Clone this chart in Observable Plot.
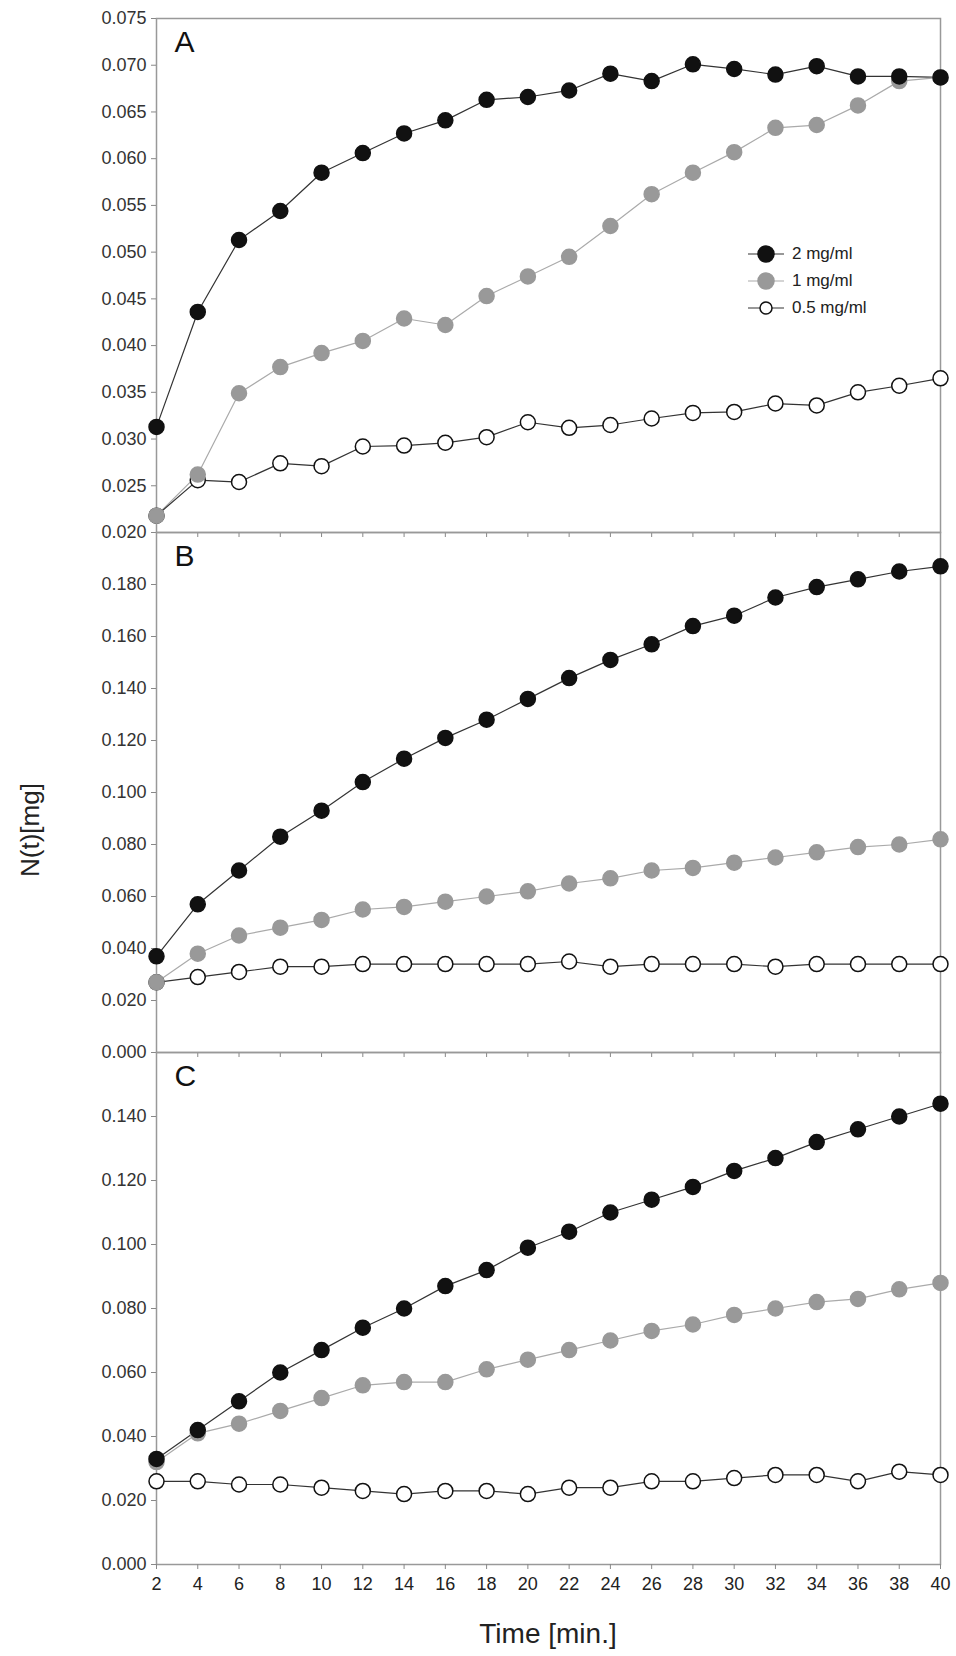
<!DOCTYPE html>
<html>
<head>
<meta charset="utf-8">
<script src="https://cdn.jsdelivr.net/npm/d3@7"></script>
<script src="https://cdn.jsdelivr.net/npm/@observablehq/plot@0.6"></script>
<style>
  body { margin: 0; background: #fff; font-family: "Liberation Sans", Arial, sans-serif; }
  #wrap { position: relative; width: 956px; height: 1656px; }
  #wrap svg { display: block; }
  #ylab { position: absolute; left: 30px; top: 830px; transform: translate(-50%, -50%) rotate(-90deg); font-size: 26px; color: #222; white-space: nowrap; }
  #xlab { position: absolute; left: 548px; top: 1618px; transform: translateX(-50%); font-size: 28px; color: #222; white-space: nowrap; }
  #legend { position: absolute; left: 746px; top: 240px; font-size: 17px; color: #222; }
  #legend div { display: flex; align-items: center; height: 27px; }
  #legend svg { margin-right: 6px; }
</style>
</head>
<body>
<div id="wrap">
  <div id="chart"></div>
  <div id="ylab">N(t)[mg]</div>
  <div id="xlab">Time [min.]</div>
  <div id="legend"></div>
</div>
<script>
const time = [2,4,6,8,10,12,14,16,18,20,22,24,26,28,30,32,34,36,38,40];
const series = ["2 mg/ml", "1 mg/ml", "0.5 mg/ml"];

const a2 = [0.0313,0.0436,0.0513,0.0544,0.0585,0.0606,0.0627,0.0641,0.0663,0.0666,0.0673,0.0691,0.0683,0.0701,0.0696,0.0690,0.0699,0.0688,0.0688,0.0687];
const a1 = [0.0218,0.0262,0.0349,0.0377,0.0392,0.0405,0.0429,0.0422,0.0453,0.0474,0.0495,0.0528,0.0562,0.0585,0.0607,0.0633,0.0636,0.0657,0.0683,0.0687];
const a05 = [0.0218,0.0256,0.0254,0.0274,0.0271,0.0292,0.0293,0.0296,0.0302,0.0318,0.0312,0.0315,0.0322,0.0328,0.0329,0.0338,0.0336,0.0350,0.0357,0.0365];

const b2 = [0.037,0.057,0.070,0.083,0.093,0.104,0.113,0.121,0.128,0.136,0.144,0.151,0.157,0.164,0.168,0.175,0.179,0.182,0.185,0.187];
const b1 = [0.027,0.038,0.045,0.048,0.051,0.055,0.056,0.058,0.060,0.062,0.065,0.067,0.070,0.071,0.073,0.075,0.077,0.079,0.080,0.082];
const b05 = [0.027,0.029,0.031,0.033,0.033,0.034,0.034,0.034,0.034,0.034,0.035,0.033,0.034,0.034,0.034,0.033,0.034,0.034,0.034,0.034];

const c2 = [0.033,0.042,0.051,0.060,0.067,0.074,0.080,0.087,0.092,0.099,0.104,0.110,0.114,0.118,0.123,0.127,0.132,0.136,0.140,0.144];
const c1 = [0.032,0.041,0.044,0.048,0.052,0.056,0.057,0.057,0.061,0.064,0.067,0.070,0.073,0.075,0.078,0.080,0.082,0.083,0.086,0.088];
const c05 = [0.026,0.026,0.025,0.025,0.024,0.023,0.022,0.023,0.023,0.022,0.024,0.024,0.026,0.026,0.027,0.028,0.028,0.026,0.029,0.028];

const yTicksA = d3.range(0.020, 0.0751, 0.005);
const yTicksB = d3.range(0, 0.1801, 0.02);
const yTicksC = d3.range(0, 0.1401, 0.02);

const style = {
  "2 mg/ml": {fill: "#111", stroke: "#111", line: "#333"},
  "1 mg/ml": {fill: "#999", stroke: "#999", line: "#aaa"},
  "0.5 mg/ml": {fill: "#fff", stroke: "#111", line: "#333"}
};

function rows(vals) {
  return series.flatMap((s, i) => time.map((t, j) => ({t, v: vals[i][j], s})));
}

function panel({vals, domain, ticks, letter, height, top, bottom, last}) {
  const data = rows(vals);
  const marks = [
    Plot.frame({stroke: "#999", strokeWidth: 1.5}),
    Plot.axisY({ticks, tickFormat: d3.format(".3f"), tickSize: 5, tickPadding: 5, stroke: "#888", fontSize: 18, fill: "#333", label: null}),
    last
      ? Plot.axisX({ticks: time, tickSize: 5, tickPadding: 8, stroke: "#888", fontSize: 18, fill: "#222", label: null})
      : Plot.axisX({ticks: time, tickSize: 5, tickFormat: () => "", stroke: "#888", label: null})
  ];
  for (const s of series) {
    const d = data.filter(r => r.s === s);
    marks.push(Plot.line(d, {x: "t", y: "v", stroke: style[s].line, strokeWidth: 1.2}));
  }
  for (const s of [...series].reverse()) {
    const d = data.filter(r => r.s === s);
    marks.push(Plot.dot(d, {x: "t", y: "v", r: 7.5, fill: style[s].fill, stroke: style[s].stroke, strokeWidth: 1.5}));
  }
  marks.push(Plot.text([letter], {frameAnchor: "top-left", dx: 18, dy: 12, text: d => d, fontSize: 30, fill: "#111"}));
  return Plot.plot({
    width: 956, height,
    marginLeft: 156, marginRight: 16, marginTop: top, marginBottom: bottom,
    style: {fontFamily: "Liberation Sans, Arial, sans-serif", overflow: "visible"},
    x: {domain: [2, 40]},
    y: {domain},
    marks
  });
}

const chart = d3.select("#chart");
chart.append(() => panel({vals: [a2, a1, a05], domain: [0.020, 0.075], ticks: yTicksA, letter: "A", height: 532, top: 18, bottom: 0}));
chart.append(() => panel({vals: [b2, b1, b05], domain: [0, 0.2], ticks: yTicksB, letter: "B", height: 520, top: 0, bottom: 0}));
chart.append(() => panel({vals: [c2, c1, c05], domain: [0, 0.16], ticks: yTicksC, letter: "C", height: 604, top: 0, bottom: 92, last: true}));

// legend
const leg = d3.select("#legend");
for (const s of series) {
  const row = leg.append("div");
  const svg = row.append("svg").attr("width", 40).attr("height", 20);
  svg.append("line").attr("x1", 2).attr("x2", 38).attr("y1", 10).attr("y2", 10).attr("stroke", style[s].line).attr("stroke-width", 1.2);
  const big = s !== "0.5 mg/ml";
  svg.append("circle").attr("cx", 20).attr("cy", 10).attr("r", big ? 8 : 6).attr("fill", style[s].fill).attr("stroke", style[s].stroke).attr("stroke-width", 1.5);
  row.append("span").text(s);
}
</script>
</body>
</html>
